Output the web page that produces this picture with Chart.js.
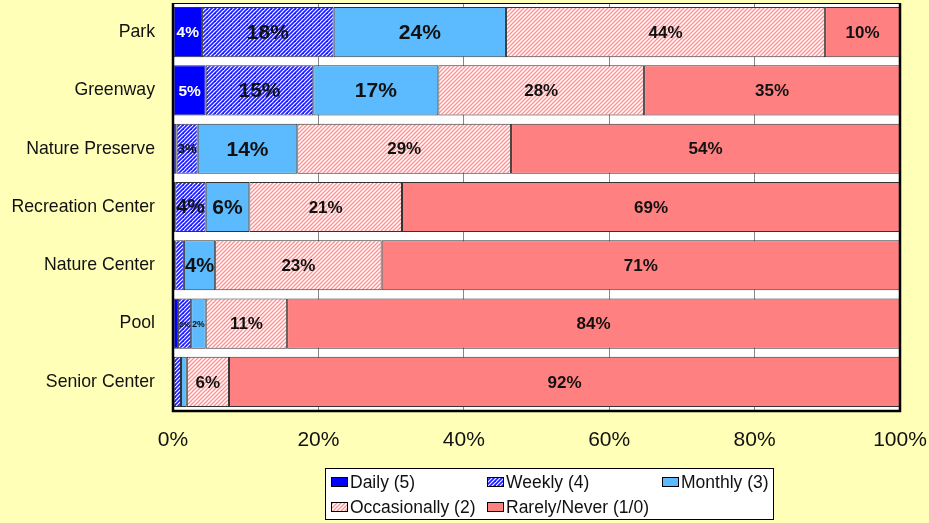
<!DOCTYPE html>
<html lang="en">
<head>
    <meta charset="UTF-8">
    <title>Facility use</title>
    <script src="https://cdn.jsdelivr.net/npm/chart.js"></script>
    <style>
        html, body { margin: 0; padding: 0; background: #FFFFB8; }
        #wrap { width: 929px; height: 523px; }
    </style>
</head>
<body>
<div id="wrap"><canvas id="useChart" width="929" height="523"></canvas></div>
<script>
    const categories = ['Park', 'Greenway', 'Nature Preserve', 'Recreation Center', 'Nature Center', 'Pool', 'Senior Center'];
    const seriesNames = ['Daily (5)', 'Weekly (4)', 'Monthly (3)', 'Occasionally (2)', 'Rarely/Never (1/0)'];
    const daily = [4.0, 4.5, 0.5, 0.3, 0.3, 0.7, 0.1];
    const weekly = [18.1, 14.8, 2.9, 4.2, 1.2, 1.8, 1.0];
    const monthly = [23.7, 17.2, 13.7, 6.0, 4.3, 2.0, 0.8];
    const occasionally = [43.9, 28.3, 29.4, 21.0, 22.9, 11.2, 5.8];
    const rarely = [10.3, 35.2, 53.5, 68.5, 71.3, 84.3, 92.3];
    const xTicks = [0, 20, 40, 60, 80, 100];

    const FONT = '"Liberation Sans", Arial, sans-serif';

    // diagonal hatch fill
    function hatch(lineColor, lw) {
        const c = document.createElement('canvas');
        c.width = 8; c.height = 8;
        const g = c.getContext('2d');
        g.fillStyle = '#ffffff';
        g.fillRect(0, 0, 8, 8);
        g.strokeStyle = lineColor;
        g.lineWidth = lw;
        for (let k = -8; k <= 16; k += 4) {
            g.beginPath();
            g.moveTo(k - 4, 12);
            g.lineTo(k + 12, -4);
            g.stroke();
        }
        return g.createPattern(c, 'repeat');
    }

    const fills = ['#0000FF', hatch('#1f1fff', 1.8), '#5CBBFF', hatch('#ff8f8f', 1.3), '#FF8080'];
    const labelSize = [15.5, 21, 21, 17, 17];
    const labelColor = ['#ffffff', '#111111', '#111111', '#111111', '#111111'];
    const values = [daily, weekly, monthly, occasionally, rarely];

    const plotFrame = {
        id: 'plotFrame',
        beforeDraw(chart) {
            const a = chart.chartArea, ctx = chart.ctx;
            ctx.save();
            ctx.fillStyle = '#ffffff';
            ctx.fillRect(a.left, a.top, a.right - a.left, a.bottom - a.top);
            ctx.restore();
        },
        afterDatasetsDraw(chart) {
            const a = chart.chartArea, ctx = chart.ctx;
            ctx.save();
            ctx.strokeStyle = '#000';
            ctx.lineWidth = 1;
            ctx.beginPath();
            ctx.moveTo(a.left, a.top + 0.5);
            ctx.lineTo(a.right, a.top + 0.5);
            ctx.stroke();
            ctx.lineWidth = 2.5;
            ctx.beginPath();
            ctx.moveTo(a.left, a.top);
            ctx.lineTo(a.left, a.bottom);
            ctx.lineTo(a.right, a.bottom);
            ctx.lineTo(a.right, a.top);
            ctx.stroke();

            // segment labels
            chart.data.datasets.forEach((ds, i) => {
                const meta = chart.getDatasetMeta(i);
                meta.data.forEach((bar, j) => {
                    const w = Math.abs(bar.x - bar.base);
                    const txt = Math.round(ds.data[j]) + '%';
                    let size = labelSize[i];
                    ctx.font = 'bold ' + size + 'px ' + FONT;
                    const tw = ctx.measureText(txt).width;
                    if (tw > w - 2) size = size * (w - 2) / tw;
                    if (size < 5) return;
                    ctx.font = 'bold ' + size + 'px ' + FONT;
                    ctx.fillStyle = labelColor[i];
                    ctx.textAlign = 'center';
                    ctx.textBaseline = 'middle';
                    ctx.fillText(txt, (bar.x + bar.base) / 2, bar.y + 1);
                });
            });
            ctx.restore();
        },
        afterDraw(chart) {
            // legend box
            const ctx = chart.ctx;
            const box = { x: 325, y: 468, w: 448, h: 51 };
            const cols = [331, 487, 662];
            const rows = [482, 507];
            ctx.save();
            ctx.fillStyle = '#ffffff';
            ctx.fillRect(box.x, box.y, box.w, box.h);
            ctx.strokeStyle = '#000';
            ctx.lineWidth = 1;
            ctx.strokeRect(box.x + 0.5, box.y + 0.5, box.w, box.h);
            ctx.font = '17.5px ' + FONT;
            ctx.textBaseline = 'middle';
            ctx.textAlign = 'left';
            chart.data.datasets.forEach((ds, i) => {
                const cx = cols[i % 3], cy = rows[Math.floor(i / 3)];
                ctx.fillStyle = ds.backgroundColor;
                ctx.fillRect(cx, cy - 5, 17, 10);
                ctx.strokeStyle = '#000';
                ctx.strokeRect(cx + 0.5, cy - 4.5, 16, 9);
                ctx.fillStyle = '#111';
                ctx.fillText(ds.label, cx + 19, cy + 1);
            });
            ctx.restore();
        }
    };

    new Chart(document.getElementById('useChart'), {
        type: 'bar',
        data: {
            labels: categories,
            datasets: values.map((v, i) => ({
                label: seriesNames[i],
                data: v,
                backgroundColor: fills[i],
                borderColor: '#333',
                borderWidth: 1,
                borderSkipped: false,
                categoryPercentage: 1,
                barPercentage: 0.86
            }))
        },
        options: {
            indexAxis: 'y',
            responsive: false,
            animation: false,
            layout: { padding: { top: 3, right: 29, left: 0, bottom: 0 } },
            plugins: {
                legend: { display: false },
                tooltip: { enabled: false }
            },
            scales: {
                x: {
                    stacked: true,
                    min: 0,
                    max: 100,
                    afterBuildTicks: s => { s.ticks = xTicks.map(v => ({ value: v })); },
                    afterFit: s => { s.height = 112; s.paddingLeft = 0; s.paddingRight = 0; },
                    grid: { color: '#888', drawTicks: false, lineWidth: 1 },
                    border: { display: false },
                    ticks: {
                        padding: 17,
                        color: '#111',
                        font: { size: 21, family: FONT },
                        callback: v => v + '%'
                    }
                },
                y: {
                    stacked: true,
                    afterFit: s => { s.width = 173; s.paddingTop = 0; s.paddingBottom = 0; },
                    grid: { display: false, drawTicks: false },
                    border: { display: false },
                    ticks: {
                        padding: 18,
                        color: '#111',
                        font: { size: 17.7, family: FONT }
                    }
                }
            }
        },
        plugins: [plotFrame]
    });
</script>
</body>
</html>
